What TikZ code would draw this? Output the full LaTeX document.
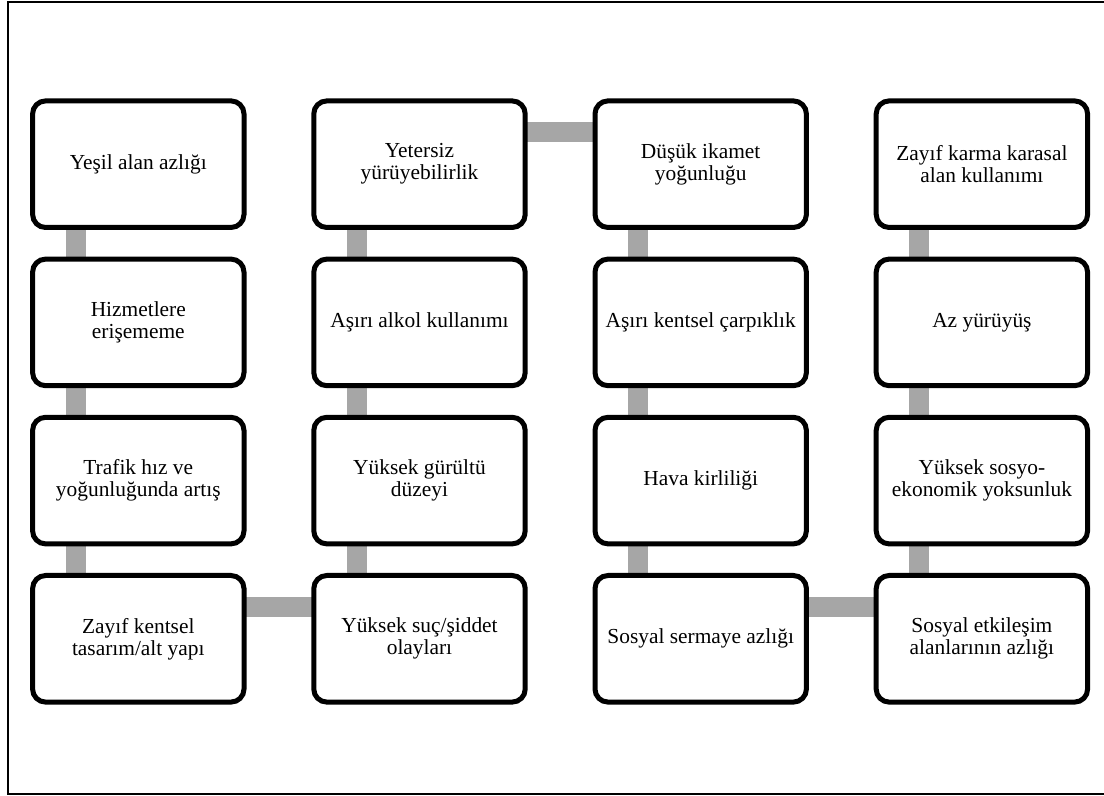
\documentclass[tikz,border=0pt]{standalone}
\usepackage{fontspec}
\setmainfont{Liberation Serif}
\usetikzlibrary{positioning,backgrounds}
\definecolor{linkgray}{RGB}{166,166,166}

\begin{document}
\begin{tikzpicture}[
    font=\fontsize{10.7}{11}\selectfont,
    node distance=15.8pt and 34.9pt,
    % Define styles for the boxes and links
    factor/.style={rectangle, draw=black, line width=2.5pt, rounded corners=6.5pt, fill=white, align=center, minimum width=105.7pt, minimum height=63.3pt, inner sep=2pt, outer sep=0pt},
    vlink/.style={draw=linkgray, line width=10pt},
    hlink/.style={draw=linkgray, line width=10pt},
    frame/.style={draw=black, line width=1pt}
]
\useasboundingbox (0,0) rectangle (552pt,-398pt);
\draw[frame] (553pt,-1pt) -- (3.9pt,-1pt) -- (3.9pt,-397pt) -- (553pt,-397pt);

% ==========================================
% Column 1
% ==========================================
\node[factor] (yesil) at (69.15pt,-82.1pt) {Yeşil alan azlığı};
\node[factor, below=of yesil] (hizmet) {Hizmetlere\\erişememe};
\node[factor, below=of hizmet] (trafik) {Trafik hız ve\\yoğunluğunda artış};
\node[factor, below=of trafik] (tasarim) {Zayıf kentsel\\tasarım/alt yapı};

% ==========================================
% Column 2
% ==========================================
\node[factor, right=of yesil] (yetersiz) {Yetersiz\\yürüyebilirlik};
\node[factor, below=of yetersiz] (alkol) {Aşırı alkol kullanımı};
\node[factor, below=of alkol] (gurultu) {Yüksek gürültü\\düzeyi};
\node[factor, below=of gurultu] (suc) {Yüksek suç/şiddet\\olayları};

% ==========================================
% Column 3
% ==========================================
\node[factor, right=of yetersiz] (ikamet) {Düşük ikamet\\yoğunluğu};
\node[factor, below=of ikamet] (carpik) {Aşırı kentsel çarpıklık};
\node[factor, below=of carpik] (hava) {Hava kirliliği};
\node[factor, below=of hava] (sermaye) {Sosyal sermaye azlığı};

% ==========================================
% Column 4
% ==========================================
\node[factor, right=of ikamet] (karma) {Zayıf karma karasal\\alan kullanımı};
\node[factor, below=of karma] (yuruyus) {Az yürüyüş};
\node[factor, below=of yuruyus] (yoksun) {Yüksek sosyo-\\ekonomik yoksunluk};
\node[factor, below=of yoksun] (etkilesim) {Sosyal etkileşim\\alanlarının azlığı};

% Links between the boxes
\begin{scope}[on background layer]
    \draw[vlink] ([xshift=-31.3pt]yesil.south) -- ([xshift=-31.3pt]hizmet.north);
    \draw[vlink] ([xshift=-31.3pt]hizmet.south) -- ([xshift=-31.3pt]trafik.north);
    \draw[vlink] ([xshift=-31.3pt]trafik.south) -- ([xshift=-31.3pt]tasarim.north);
    \draw[hlink] ([yshift=16pt]tasarim.east) -- ([yshift=16pt]suc.west);
    \draw[vlink] ([xshift=-31.3pt]suc.north) -- ([xshift=-31.3pt]gurultu.south);
    \draw[vlink] ([xshift=-31.3pt]gurultu.north) -- ([xshift=-31.3pt]alkol.south);
    \draw[vlink] ([xshift=-31.3pt]alkol.north) -- ([xshift=-31.3pt]yetersiz.south);
    \draw[hlink] ([yshift=16pt]yetersiz.east) -- ([yshift=16pt]ikamet.west);
    \draw[vlink] ([xshift=-31.3pt]ikamet.south) -- ([xshift=-31.3pt]carpik.north);
    \draw[vlink] ([xshift=-31.3pt]carpik.south) -- ([xshift=-31.3pt]hava.north);
    \draw[vlink] ([xshift=-31.3pt]hava.south) -- ([xshift=-31.3pt]sermaye.north);
    \draw[hlink] ([yshift=16pt]sermaye.east) -- ([yshift=16pt]etkilesim.west);
    \draw[vlink] ([xshift=-31.3pt]etkilesim.north) -- ([xshift=-31.3pt]yoksun.south);
    \draw[vlink] ([xshift=-31.3pt]yoksun.north) -- ([xshift=-31.3pt]yuruyus.south);
    \draw[vlink] ([xshift=-31.3pt]yuruyus.north) -- ([xshift=-31.3pt]karma.south);
\end{scope}

\end{tikzpicture}
\end{document}
